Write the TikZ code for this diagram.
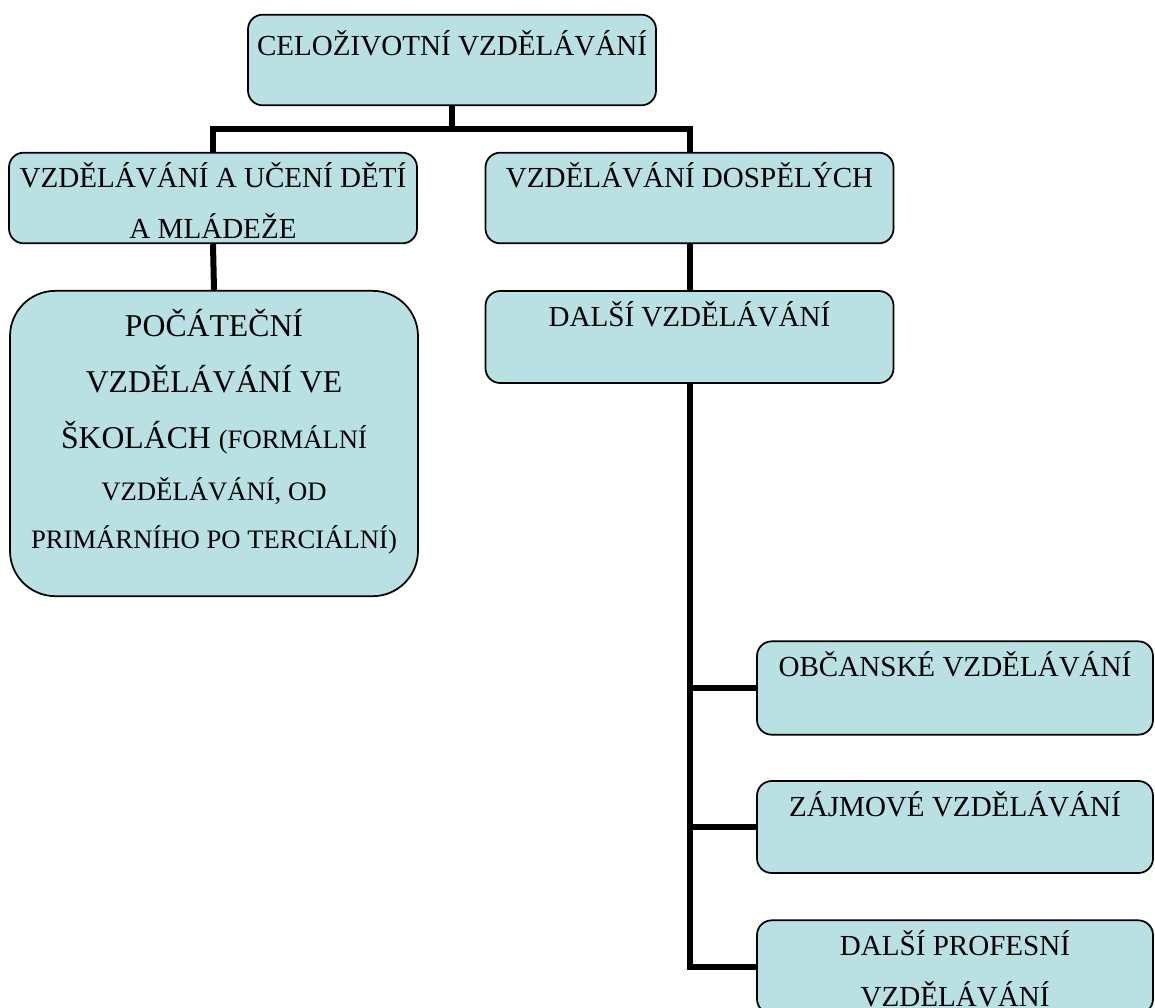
\documentclass[tikz,border=0pt]{standalone}
\usepackage{fontspec}
\setmainfont{Liberation Serif}
\usepackage{tikz}
\usetikzlibrary{positioning, calc}

\definecolor{boxblue}{RGB}{185,224,227}

\begin{document}
\begin{tikzpicture}[x=0.75pt, y=-0.75pt,
    box/.style={draw, line width=1.3pt, fill=boxblue, rounded corners=11pt, minimum width=306pt, minimum height=68pt},
    txt/.style={anchor=north, align=center, inner sep=0pt, yshift=-8pt, font=\fontsize{21.8}{38}\selectfont},
    link/.style={line width=4.5pt}]
\useasboundingbox (0,0) rectangle (1155,1007);

\node[box, label={[txt, yshift=-4pt]north:CELOŽIVOTNÍ VZDĚLÁVÁNÍ}] (celo) at (452,60) {};
\node[box, label={[txt]north:VZDĚLÁVÁNÍ A UČENÍ DĚTÍ\\A MLÁDEŽE}] (deti) at (213,198) {};
\node[box, label={[txt]north:VZDĚLÁVÁNÍ DOSPĚLÝCH}] (dosp) at (689.5,198) {};
\node[box, rounded corners=34pt, minimum height=229pt,
    label={[txt, yshift=-6pt, font=\fontsize{23.8}{42}\selectfont]north:POČÁTEČNÍ\\VZDĚLÁVÁNÍ VE\\ŠKOLÁCH {\fontsize{20}{39}\selectfont(FORMÁLNÍ}\\[-3pt]{\fontsize{20}{39}\selectfont VZDĚLÁVÁNÍ, OD}\\[-6pt]{\fontsize{20}{39}\selectfont PRIMÁRNÍHO PO TERCIÁLNÍ)}}] (poc) at (214,443.5) {};
\node[box, minimum height=69pt, label={[txt]north:DALŠÍ VZDĚLÁVÁNÍ}] (dalsi) at (689.5,337) {};

% kinds of further education
\node[box, minimum width=297pt, minimum height=70pt, label={[txt]north:OBČANSKÉ VZDĚLÁVÁNÍ}] (obc) at (955,688) {};
\node[box, minimum width=297pt, minimum height=69pt, label={[txt]north:ZÁJMOVÉ VZDĚLÁVÁNÍ}] (zaj) at (955,827) {};
\node[box, minimum width=297pt, minimum height=70pt, label={[txt]north:DALŠÍ PROFESNÍ\\VZDĚLÁVÁNÍ}] (prof) at (955,967) {};

% connectors
\coordinate (split) at ($(celo.south)+(0,23)$);
\draw[link] (celo.south) -- (split) -| (deti.north);
\draw[link] (split) -| (dosp.north);
\draw[link] (deti.south) -- (poc.north);
\draw[link] (dosp.south) -- (dalsi.north);
\draw[link] (dalsi.south) |- (obc.west);
\draw[link] (dalsi.south) |- (zaj.west);
\draw[link] (dalsi.south) |- (prof.west);
\end{tikzpicture}
\end{document}
